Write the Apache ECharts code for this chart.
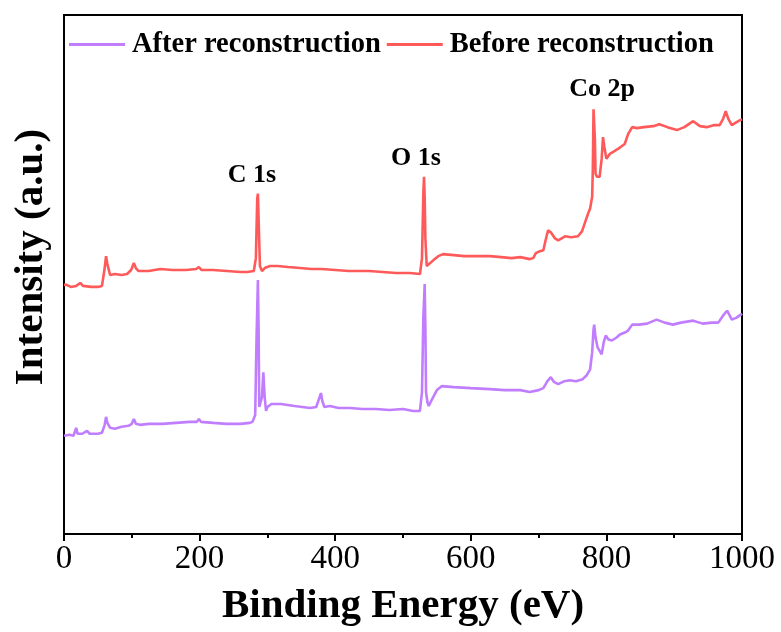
<!DOCTYPE html>
<html>
<head>
<meta charset="utf-8">
<script src="https://cdn.jsdelivr.net/npm/echarts@6/dist/echarts.min.js"></script>
<style>
  html, body { margin: 0; padding: 0; background: #fff; }
  #chart { width: 781px; height: 632px; }
</style>
</head>
<body>
<div id="chart"></div>
<script>
// XPS survey spectra, binding energy (eV) vs intensity (a.u.)
const xTicks = [0, 200, 400, 600, 800, 1000];

const beforeEnergy = [0,4,10,18,24,28,40,50,56,60,62,64,68,75,85,93,99,103,106,110,125,142,160,180,195,199,203,220,240,260,270,280,283,285,286,287,289,292,296,304,315,330,348,365,380,400,420,432,450,470,490,510,525,528,530,531,532,533,535,537,545,552,559,575,590,610,628,645,660,673,687,692,696,702,707,711,714,718,724,729,734,739,748,758,764,768,773,776,779,780,781,782,783,784,786,790,793,795,797,800,805,810,817,823,827,832,838,845,855,869,878,890,904,915,928,938,948,958,967,972,976,980,985,992,1000];
const beforeIntensity = [251,251,249,250,253,250,249,249,250,268,280,272,261,262,261,262,266,273,268,265,265,267,266,266,267,269,266,266,265,264,264,265,278,338,343,318,270,265,268,270,270,269,268,267,267,266,265,265,265,264,263,263,262,278,343,360,338,298,270,270,276,280,282,281,280,280,280,279,278,279,277,278,283,285,286,298,306,304,298,296,298,300,299,300,305,313,323,328,340,368,428,430,398,363,360,360,378,400,390,378,383,385,388,391,393,403,410,409,410,411,413,410,407,410,416,411,410,412,412,418,426,418,412,415,418];

const afterEnergy = [0,8,14,18,20,27,34,38,50,56,60,62,64,68,75,85,95,100,103,106,112,125,145,165,185,196,199,202,220,240,260,274,278,282,284,286,287,288,290,292,294,296,298,300,306,320,340,363,372,377,379,381,384,392,405,422,440,460,480,500,515,525,528,530,532,533,534,536,538,543,550,557,575,600,628,650,673,687,700,707,713,718,723,729,738,746,755,765,771,776,779,781,782,784,787,793,796,799,803,808,815,820,827,832,838,848,860,874,886,898,910,928,942,955,965,972,978,982,985,992,1000];
const afterIntensity = [99,100,99,107,101,101,104,101,101,102,110,118,112,107,106,108,109,111,116,111,110,111,111,112,113,113,116,113,112,111,111,112,113,120,198,256,208,128,126,138,163,138,124,128,131,131,129,127,128,138,142,134,128,129,127,127,126,126,125,126,124,124,143,218,252,208,143,133,129,136,145,149,148,147,146,145,145,143,145,147,154,158,153,151,154,155,154,156,160,166,183,206,211,198,188,181,193,200,196,195,198,201,203,205,211,211,212,216,213,211,213,215,212,213,213,220,225,220,216,218,222];

// peak labels placed on the "Before" curve
const peakNames = ['C 1s', 'O 1s', 'Co 2p'];
const peakEnergy = [286, 531, 782];
const peakIntensity = [343, 360, 430];
const peakShift = [-6, -8, 8];

function pairs(xs, ys) { return xs.map((x, i) => [x, ys[i]]); }

const serif = '"Liberation Serif", "Times New Roman", serif';
const purple = '#c07eff';
const red = '#ff5a5a';

const chart = echarts.init(document.getElementById('chart'), null, { renderer: 'canvas' });
chart.setOption({
  animation: false,
  backgroundColor: '#fff',
  grid: { left: 64, right: 39, top: 15, bottom: 94, show: true, borderColor: '#000', borderWidth: 2, backgroundColor: 'transparent' },
  legend: {
    left: 64, top: 25,
    itemWidth: 56, itemHeight: 3, itemGap: 6,
    icon: 'rect',
    textStyle: { fontFamily: serif, fontWeight: 'bold', fontSize: 28.5, color: '#000', padding: [0, 0, 0, 2] },
    data: ['After reconstruction', 'Before reconstruction']
  },
  // vertical axis title
  graphic: [{
    type: 'text', x: 31, y: 257, rotation: Math.PI / 2,
    style: {
      text: 'Intensity (a.u.)', fontFamily: serif, fontWeight: 'bold', fontSize: 41,
      fill: '#000', align: 'center', verticalAlign: 'middle'
    }
  }],
  xAxis: {
    type: 'value', min: 0, max: 1000, interval: 200,
    name: 'Binding Energy (eV)', nameLocation: 'middle', nameGap: 52,
    nameTextStyle: { fontFamily: serif, fontWeight: 'bold', fontSize: 41, color: '#000' },
    axisLine: { lineStyle: { color: '#000', width: 2 } },
    axisTick: { show: true, length: 7, lineStyle: { color: '#000', width: 2 } },
    minorTick: { show: true, splitNumber: 2, length: 4, lineStyle: { color: '#000', width: 2 } },
    axisLabel: { fontFamily: serif, fontSize: 33, color: '#000', margin: 9, formatter: v => String(v) },
    splitLine: { show: false }
  },
  yAxis: {
    type: 'value', min: 0, max: 523,
    axisLine: { show: true, lineStyle: { color: '#000', width: 2 } },
    axisTick: { show: false },
    axisLabel: { show: false },
    splitLine: { show: false }
  },
  series: [
    {
      name: 'After reconstruction', type: 'line', showSymbol: false, symbol: 'none',
      data: pairs(afterEnergy, afterIntensity),
      lineStyle: { color: purple, width: 2.6 }, itemStyle: { color: purple }, z: 3
    },
    {
      name: 'Before reconstruction', type: 'line', showSymbol: false, symbol: 'none',
      data: pairs(beforeEnergy, beforeIntensity),
      lineStyle: { color: red, width: 2.6 }, itemStyle: { color: red }, z: 4,
      markPoint: {
        symbol: 'circle', symbolSize: 0, silent: true,
        label: { show: true, position: 'top', distance: 5, fontFamily: serif, fontWeight: 'bold', fontSize: 26, color: '#000' },
        data: peakNames.map((n, i) => ({
          coord: [peakEnergy[i], peakIntensity[i]],
          label: { formatter: n, offset: [peakShift[i], 0] }
        }))
      }
    }
  ]
});
</script>
</body>
</html>
